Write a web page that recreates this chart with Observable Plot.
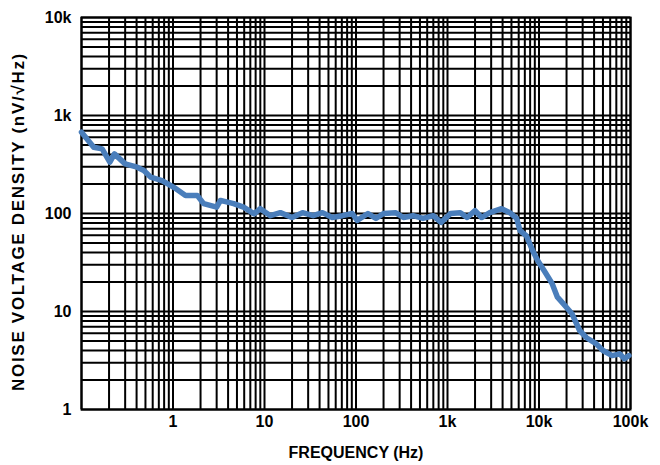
<!DOCTYPE html>
<html><head><meta charset="utf-8">
<script src="https://cdn.jsdelivr.net/npm/d3@7"></script>
<script src="https://cdn.jsdelivr.net/npm/@observablehq/plot@0.6"></script>
<style>html,body{margin:0;padding:0;background:#fff} svg{display:block}</style>
</head><body><div id="chart"></div>
<script>
const freqHz = [0.1, 0.136, 0.168, 0.204, 0.229, 0.30, 0.406, 0.48, 0.57, 0.76, 1.02, 1.37, 1.84, 2.16, 3.0, 3.3, 4.6, 5.9, 7.7, 9.0, 11.6, 14.9, 20, 26, 34, 43, 55, 71, 91, 103, 135, 165, 200, 270, 330, 420, 540, 700, 850, 1080, 1380, 1640, 2000, 2360, 2900, 3900, 4800, 5700, 6200, 7300, 8500, 9700, 11400, 13900, 15900, 18300, 22900, 27800, 33000, 42000, 50000, 63000, 76000, 86000, 96000];
const noiseDensity = [676, 475, 457, 334, 406, 321, 297, 275, 235, 217, 185, 153, 153, 126, 116, 136, 126, 116, 99, 112, 95, 102, 91, 102, 95, 102, 91, 95, 100, 85, 100, 89, 100, 102, 91, 95, 89, 95, 81, 100, 102, 91, 107, 91, 102, 112, 102, 89, 67, 59, 42, 33, 26, 19.3, 14, 12.1, 9.5, 6.4, 5.4, 4.7, 4.0, 3.55, 3.7, 3.3, 3.55];
const xTickValues = [1, 10, 100, 1000, 10000, 100000];
const xTickLabels = ["1", "10", "100", "1k", "10k", "100k"];
const yTickValues = [1, 10, 100, 1000, 10000];
const yTickLabels = ["1", "10", "100", "1k", "10k"];
const xTitle = "FREQUENCY (Hz)";
const yTitle = "NOISE VOLTAGE DENSITY (nV/\u221AHz)";

const data = freqHz.map((f, i) => ({f, v: noiseDensity[i]}));
const xGrid = d3.range(-1, 5).flatMap(e => d3.range(1, 10).map(m => m * Math.pow(10, e))).concat([1e5]);
const yGrid = d3.range(0, 4).flatMap(e => d3.range(1, 10).map(m => m * Math.pow(10, e))).concat([1e4]);

const chart = Plot.plot({
  width: 660, height: 465,
  marginLeft: 81, marginRight: 30, marginTop: 17, marginBottom: 56,
  style: {fontFamily: "'Liberation Sans', Arial, sans-serif", fontWeight: "bold", background: "#fff", color: "#000"},
  x: {type: "log", domain: [0.1, 1e5]},
  y: {type: "log", domain: [1, 1e4]},
  marks: [
    Plot.ruleX(xGrid, {stroke: "#000", strokeWidth: 2}),
    Plot.ruleY(yGrid, {stroke: "#000", strokeWidth: 2}),
    Plot.frame({stroke: "#000", strokeWidth: 2}),
    Plot.line(data, {x: "f", y: "v", stroke: "#4a7ebb", strokeWidth: 5.5, strokeLinejoin: "round", strokeLinecap: "round"}),
    Plot.axisX(xTickValues, {tickSize: 0, tickPadding: 6, tickFormat: d => xTickLabels[xTickValues.indexOf(d)], fontSize: 16, fontWeight: "bold", label: null}),
    Plot.axisY(yTickValues, {tickSize: 0, tickPadding: 10, tickFormat: d => yTickLabels[yTickValues.indexOf(d)], fontSize: 16, fontWeight: "bold", label: null}),
    Plot.text([xTitle], {text: d => d, frameAnchor: "bottom", dy: 48, fontSize: 16, fontWeight: "bold", fill: "#000"}),
    Plot.text([yTitle], {text: d => d, frameAnchor: "left", textAnchor: "middle", dx: -63, dy: 8, rotate: -90, fontSize: 17, fontWeight: "bold", fill: "#000"})
  ]
});
d3.select(chart).selectAll("text").each(function() {
  if (this.textContent === yTitle) {
    this.style.letterSpacing = "1.7px";
  }
});
document.getElementById("chart").appendChild(chart);
</script>
</body></html>
